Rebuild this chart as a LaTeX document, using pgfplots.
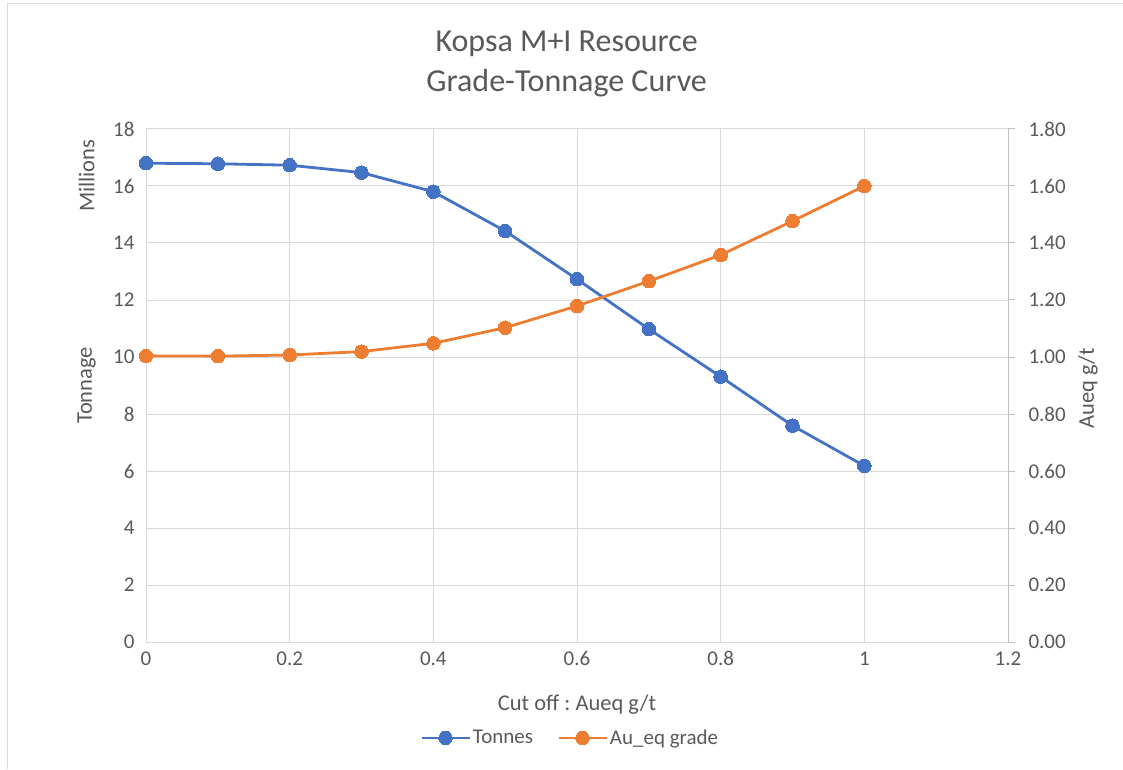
\documentclass[border=0pt]{standalone}
\usepackage{fontspec}
\setmainfont{Carlito}
\usepackage{pgfplots}
\pgfplotsset{compat=1.18}
\definecolor{tblue}{HTML}{4472C4}
\definecolor{torange}{HTML}{ED7D31}
\definecolor{tgray}{HTML}{595959}
\definecolor{tgrid}{HTML}{D9D9D9}
\definecolor{taxis}{HTML}{BFBFBF}
\frenchspacing
\begin{document}
\begin{tikzpicture}[x=1pt,y=1pt]
\path[use as bounding box] (0,0) rectangle (1123,769);
\draw[tgrid, line width=1pt] (1123,765) -- (7,765) -- (7,0);
\pgfplotsset{
  every axis/.append style={
    at={(146pt,127pt)}, anchor=south west,
    width=862pt, height=513pt, scale only axis,
    xmin=0, xmax=1.2, xtick={0,0.2,...,1.2},
    tick label style={font=\fontsize{21}{24}\selectfont, text=tgray},
    /pgf/number format/assume math mode=true,
    clip=false,
  }
}
\begin{axis}[
  ymin=0, ymax=18, ytick={0,2,...,18},
  axis line style={draw=none},
  grid=major, grid style={tgrid, line width=1pt},
  major tick length=0pt,
  xticklabel style={yshift=-6pt},
  yticklabel style={xshift=-8pt},
  xticklabels={0,0.2,0.4,0.6,0.8,1,1.2},
  legend style={at={(0.492,-0.187)}, anchor=center, draw=none, fill=none,
    font=\fontsize{21}{24}\selectfont, text=tgray, legend columns=2,
    /tikz/every even column/.append style={column sep=22pt}},
  legend image code/.code={
    \draw[#1, mark=none] (0pt,0pt) -- (48pt,0pt);
    \draw[#1, only marks] plot coordinates {(24pt,0pt)};
  },
]
\addplot[tblue, line width=2.8pt, mark=*, mark size=6.8pt, mark options={solid, line width=0pt}]
coordinates {
(0,16.80) (0.1,16.78) (0.2,16.73) (0.3,16.47) (0.4,15.80) (0.5,14.42)
(0.6,12.73) (0.7,10.98) (0.8,9.31) (0.9,7.59) (1.0,6.18)
};
\addlegendentry{Tonnes}
\addlegendimage{torange, line width=2.8pt, mark=*, mark size=6.8pt, mark options={solid, line width=0pt}}
\addlegendentry{Au\_eq grade}
\node[font=\fontsize{22.5}{26}\selectfont, text=tgray, rotate=90] at (axis description cs:-0.069,0.5) {Tonnage};
\node[font=\fontsize{22.5}{26}\selectfont, text=tgray, rotate=90] at (axis description cs:-0.069,0.909) {Millions};
\node[font=\fontsize{22.5}{26}\selectfont, text=tgray] at (axis description cs:0.5,-0.123) {Cut off : Aueq g/t};
\node[font=\fontsize{32}{38}\selectfont, text=tgray] at (axis description cs:0.488,1.166) {Kopsa M+I Resource};
\node[font=\fontsize{32}{38}\selectfont, text=tgray] at (axis description cs:0.488,1.090) {Grade-Tonnage Curve};
\end{axis}
\begin{axis}[
  ymin=0, ymax=1.8, ytick={0,0.2,...,1.8},
  axis x line=none,
  axis y line*=right,
  y axis line style={taxis, line width=1pt},
  ytick style={taxis, line width=1pt},
  major tick length=7pt,
  tick align=outside,
  yticklabel style={xshift=10pt, /pgf/number format/.cd, fixed, fixed zerofill, precision=2},
]
\addplot[torange, line width=2.8pt, mark=*, mark size=6.8pt, mark options={solid, line width=0pt}]
coordinates {
(0,1.004) (0.1,1.003) (0.2,1.007) (0.3,1.019) (0.4,1.048) (0.5,1.103)
(0.6,1.179) (0.7,1.266) (0.8,1.358) (0.9,1.477) (1.0,1.600)
};
\node[font=\fontsize{22.5}{26}\selectfont, text=tgray, rotate=90] at (axis description cs:1.0928,0.495) {Aueq g/t};
\end{axis}
\end{tikzpicture}
\end{document}
